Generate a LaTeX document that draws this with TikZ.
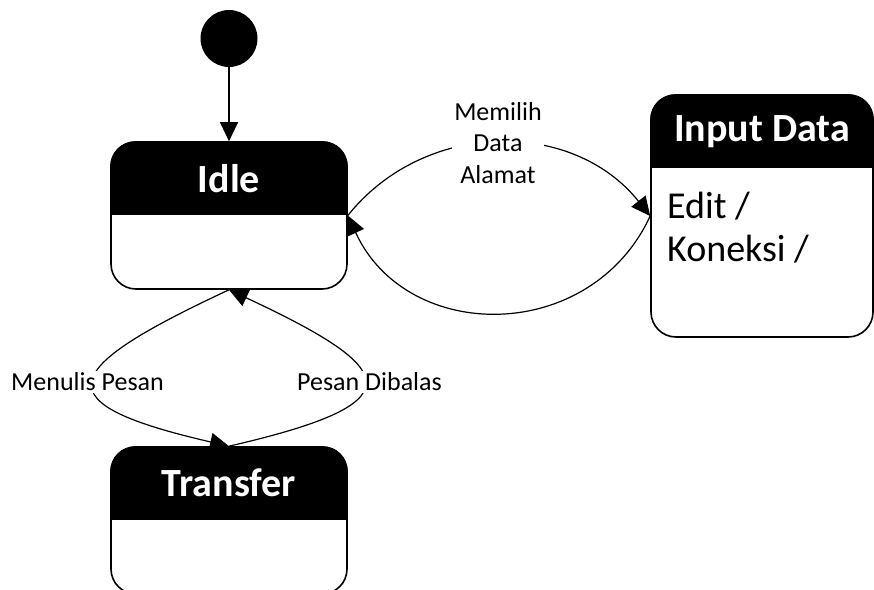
\documentclass[tikz,border=0pt]{standalone}
\usepackage{fontspec}
\setmainfont{Carlito}
\usetikzlibrary{arrows.meta,calc}
\begin{document}
\begin{tikzpicture}[x=1pt,y=1pt,
  statebox/.style={draw, line width=1.6pt, rounded corners=25pt,
    minimum width=236pt, minimum height=147pt, inner sep=0pt},
  title/.style={text=white, inner sep=0pt, font=\fontsize{40}{46}\selectfont\bfseries},
  body/.style={anchor=base west, inner sep=0pt, font=\fontsize{38}{44}\selectfont},
  lbl/.style={fill=white, inner sep=2pt, align=center, font=\fontsize{26}{31.5}\selectfont},
  conn/.style={line width=1.2pt, -{Triangle[length=19pt,width=18pt]}},
]
\useasboundingbox (0,0) rectangle (874,-589);

% states
\node[statebox] (idle) at (229,-215.5) {};
\node[statebox, minimum width=222pt, minimum height=242pt] (input) at (762,-216) {};
\node[statebox] (transfer) at (229,-520.5) {};

% black header band of each state
\foreach \n in {idle,input,transfer} {
  \begin{scope}
    \clip[rounded corners=25pt] (\n.north west) rectangle (\n.south east);
    \fill (\n.north west) rectangle ($(\n.north east)+(0,-74)$);
  \end{scope}
}

% state names
\node[title] (idletitle) at ($(idle.north)+(0,-37)$) {Idle};
\node[title] (inputtitle) at ($(input.north)+(0,-37)$) {Input Data};
\node[title] (transfertitle) at ($(transfer.north)+(0,-37)$) {Transfer};

% internal activities
\node[body] (edit) at (667,-218) {Edit /};
\node[body] (koneksi) at (667,-261.5) {Koneksi /};

% initial pseudostate
\node[circle, fill, minimum size=57pt, inner sep=0pt] (init) at (229,-38.5) {};
\draw[conn] (init) -- (idle);

% transitions
\draw[conn] (idle.east) to[bend left=51.4, looseness=1.05] (input.west);
\draw[conn] (input.west) to[bend left=65.2, looseness=1.2] (idle.east);
\draw[conn] (idle.south) to[out=205, in=167, looseness=3.14] (transfer.north);
\draw[conn] (transfer.north) to[out=13, in=-25, looseness=3.14] (idle.south);

% transition labels
\node[lbl] (lblmemilih) at (498,-143) {Memilih\\Data\\Alamat};
\node[lbl] (lblmenulis) at (87.5,-382) {Menulis Pesan};
\node[lbl] (lblbalas) at (369.5,-382) {Pesan Dibalas};
\end{tikzpicture}
\end{document}
